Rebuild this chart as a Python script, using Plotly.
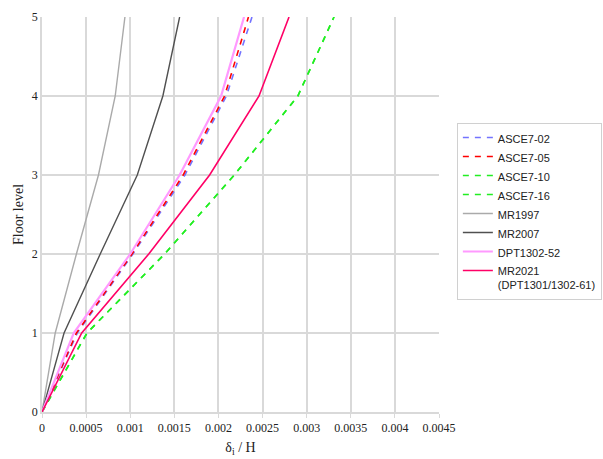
import plotly.graph_objects as go

# Storey levels and inter-storey drift ratios for each code / model
floors = [0, 1, 2, 3, 4, 5]

asce7_02 = [0, 0.00040, 0.00103, 0.00162, 0.00209, 0.00238]
asce7_05 = [0, 0.00039, 0.00102, 0.00160, 0.00207, 0.00234]
asce7_10 = [0, 0.00051, 0.00139, 0.00218, 0.00290, 0.00331]
asce7_16 = [0, 0.00051, 0.00139, 0.00218, 0.00290, 0.00331]
mr1997 = [0, 0.00015, 0.00039, 0.00064, 0.00083, 0.00094]
mr2007 = [0, 0.00025, 0.00066, 0.00108, 0.00137, 0.00156]
dpt1302_52 = [0, 0.00036, 0.00100, 0.00156, 0.00203, 0.00229]
mr2021 = [0, 0.00045, 0.00121, 0.00190, 0.00246, 0.00280]

x_ticks = [0, 0.0005, 0.001, 0.0015, 0.002, 0.0025, 0.003, 0.0035, 0.004, 0.0045]
x_tick_labels = ["0", "0.0005", "0.001", "0.0015", "0.002", "0.0025",
                 "0.003", "0.0035", "0.004", "0.0045"]
y_ticks = [0, 1, 2, 3, 4, 5]

series = [
    ("ASCE7-02", asce7_02, "#7373ff", "6px,6px", 1.6),
    ("ASCE7-05", asce7_05, "#ff0000", "6px,6px", 1.6),
    ("ASCE7-10", asce7_10, "#22ee22", "6px,6px", 1.6),
    ("ASCE7-16", asce7_16, "#22ee22", "6px,6px", 1.6),
    ("MR1997", mr1997, "#aaaaaa", "solid", 1.4),
    ("MR2007", mr2007, "#505050", "solid", 1.4),
    ("DPT1302-52", dpt1302_52, "#ff99ff", "solid", 2.2),
    ("MR2021<br>(DPT1301/1302-61)", mr2021, "#ff0066", "solid", 1.6),
]

fig = go.Figure()
for name, xs, color, dash, width in series:
    fig.add_trace(go.Scatter(
        x=xs, y=floors, mode="lines", name=name,
        line=dict(color=color, dash=dash, width=width),
    ))

serif = "Liberation Serif, Times New Roman, serif"
fig.update_layout(
    width=603, height=459,
    margin=dict(l=42, r=164, t=17, b=47, autoexpand=False),
    paper_bgcolor="white", plot_bgcolor="white",
    showlegend=True,
    legend=dict(
        x=1.045, y=0.732, xanchor="left", yanchor="top",
        bordercolor="#d0d0d0", borderwidth=1,
        font=dict(family="Liberation Sans, Arial, sans-serif", size=11, color="#222222"),
        tracegroupgap=0, valign="top", itemwidth=30,
    ),
    xaxis=dict(
        range=[0, 0.0045], tickvals=x_ticks, ticktext=x_tick_labels,
        showgrid=True, gridcolor="#d9d9d9", gridwidth=1.5,
        showline=True, linecolor="#d9d9d9", linewidth=1.5,
        ticks="outside", tickcolor="#d9d9d9", ticklen=4,
        zeroline=False,
        tickfont=dict(family=serif, size=12, color="#222222"),
        title=dict(text="δ<sub>i</sub> / H", font=dict(family=serif, size=14, color="#222222"),
                   standoff=8),
    ),
    yaxis=dict(
        range=[0, 5], tickvals=y_ticks,
        showgrid=True, gridcolor="#d9d9d9", gridwidth=1.5,
        showline=True, linecolor="#d9d9d9", linewidth=1.5,
        zeroline=False, ticks="",
        tickfont=dict(family=serif, size=12, color="#222222"),
        title=dict(text="Floor level", font=dict(family=serif, size=14, color="#222222"),
                   standoff=5),
    ),
)

fig.write_html("out.html")
